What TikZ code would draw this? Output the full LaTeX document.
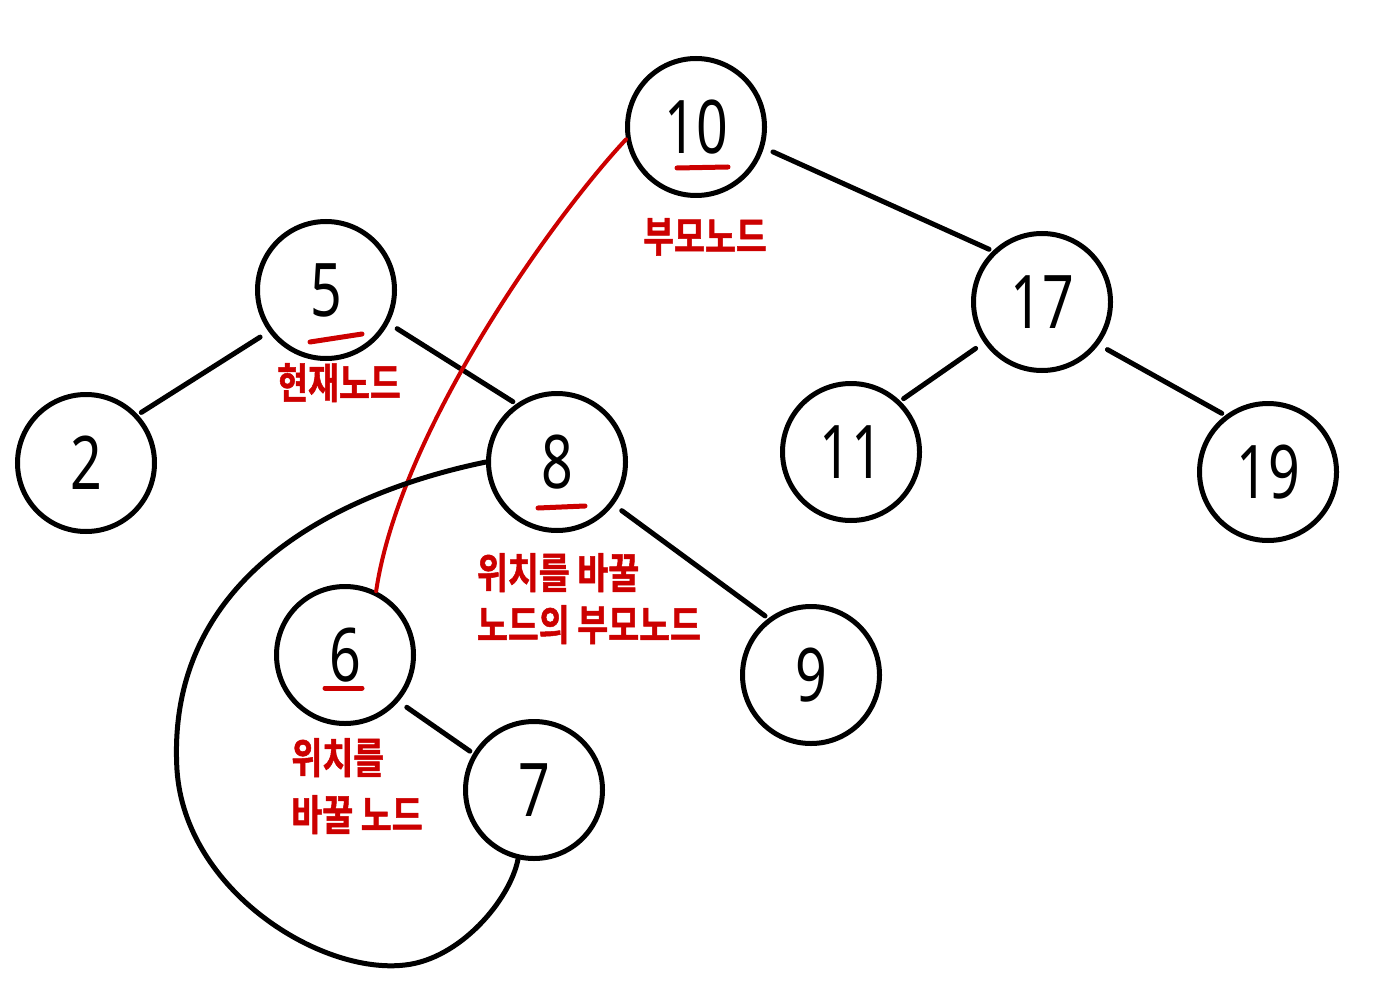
\documentclass[tikz,border=0pt]{standalone}
\usepackage{fontspec}
\newfontfamily\krfont[FakeStretch=0.8,FakeBold=1.2]{Noto Sans CJK KR Bold}
\newfontfamily\digitfont[FakeStretch=0.75]{Noto Sans}
\usetikzlibrary{positioning}
\definecolor{penred}{RGB}{204,0,0}

\begin{document}
\begin{tikzpicture}[
    x=1pt, y=-1pt,
    vertex/.style={draw, circle, line width=5pt, minimum size=137pt, inner sep=0pt,
                   font=\digitfont\fontsize{74}{74}\selectfont},
    edge/.style={line width=5pt, line cap=round, shorten <=10pt, shorten >=4pt},
    note/.style={text=penred, align=left, inner sep=0pt,
                 font=\krfont\fontsize{42}{52}\selectfont},
    uline/.style={penred, line width=5pt, line cap=round},
    swapline/.style={penred, line width=4pt, line cap=round},
    loopline/.style={line width=5pt, line cap=round}
  ]
  \useasboundingbox (0,0) rectangle (1380,1000);

  % ---- tree nodes ----
  \node[vertex] (n10) at (696,127) {10};
  \node[vertex] (n5)  at (326,290) {5};
  \node[vertex] (n17) at (1042,302) {17};
  \node[vertex] (n2)  at (86,463) {2};
  \node[vertex] (n8)  at (557,462) {8};
  \node[vertex] (n11) at (851,452) {11};
  \node[vertex] (n19) at (1268,472) {19};
  \node[vertex] (n6)  at (345,655) {6};
  \node[vertex] (n9)  at (811,675) {9};
  \node[vertex] (n7)  at (534,790) {7};

  % ---- edges ----
  \draw[edge] (n10.343) -- (n17.134);
  \draw[edge] (n5.216) -- (n2.43);
  \draw[edge] (n5.332) -- (n8.125);
  \draw[edge] (n17.215) -- (n11.46);
  \draw[edge] (n17.323) -- (n19.127);
  \draw[edge] (n8.323) -- (n9.127);
  \draw[edge] (n6.319) -- (n7.149);

  % ---- red underlines ----
  \draw[uline] ([shift={(-19,41)}]n10.center) -- ([shift={(32,40)}]n10.center);
  \draw[uline] ([shift={(-16,52)}]n5.center) -- ([shift={(36,44)}]n5.center);
  \draw[uline] ([shift={(-19,46)}]n8.center) -- ([shift={(28,44)}]n8.center);
  \draw[uline] ([shift={(-20,33)}]n6.center) -- ([shift={(17,33)}]n6.center);

  % ---- notes ----
  \node[note, below=20pt of n10, xshift=9pt] (lbl10) {부모노드};
  \node[note, below=2pt of n5, xshift=13pt] (lbl5) {현재노드};
  \node[note, below=20pt of n8, xshift=32pt] (lbl8)
    {위치를 바꿀\\노드의 부모노드};
  \node[note, below=12pt of n6, xshift=12pt] (lbl6)
    {위치를\\[5pt]바꿀 노드};

  % ---- swap links ----
  \draw[swapline] (n10.190) .. controls (555,215) and (400,430) .. (n6.64);
  \draw[loopline] (n8.west) .. controls (350,490) and (165,570) .. (177,770)
    .. controls (185,890) and (320,975) .. (405,965)
    .. controls (460,959) and (510,900) .. (n7.257);

\end{tikzpicture}
\end{document}
